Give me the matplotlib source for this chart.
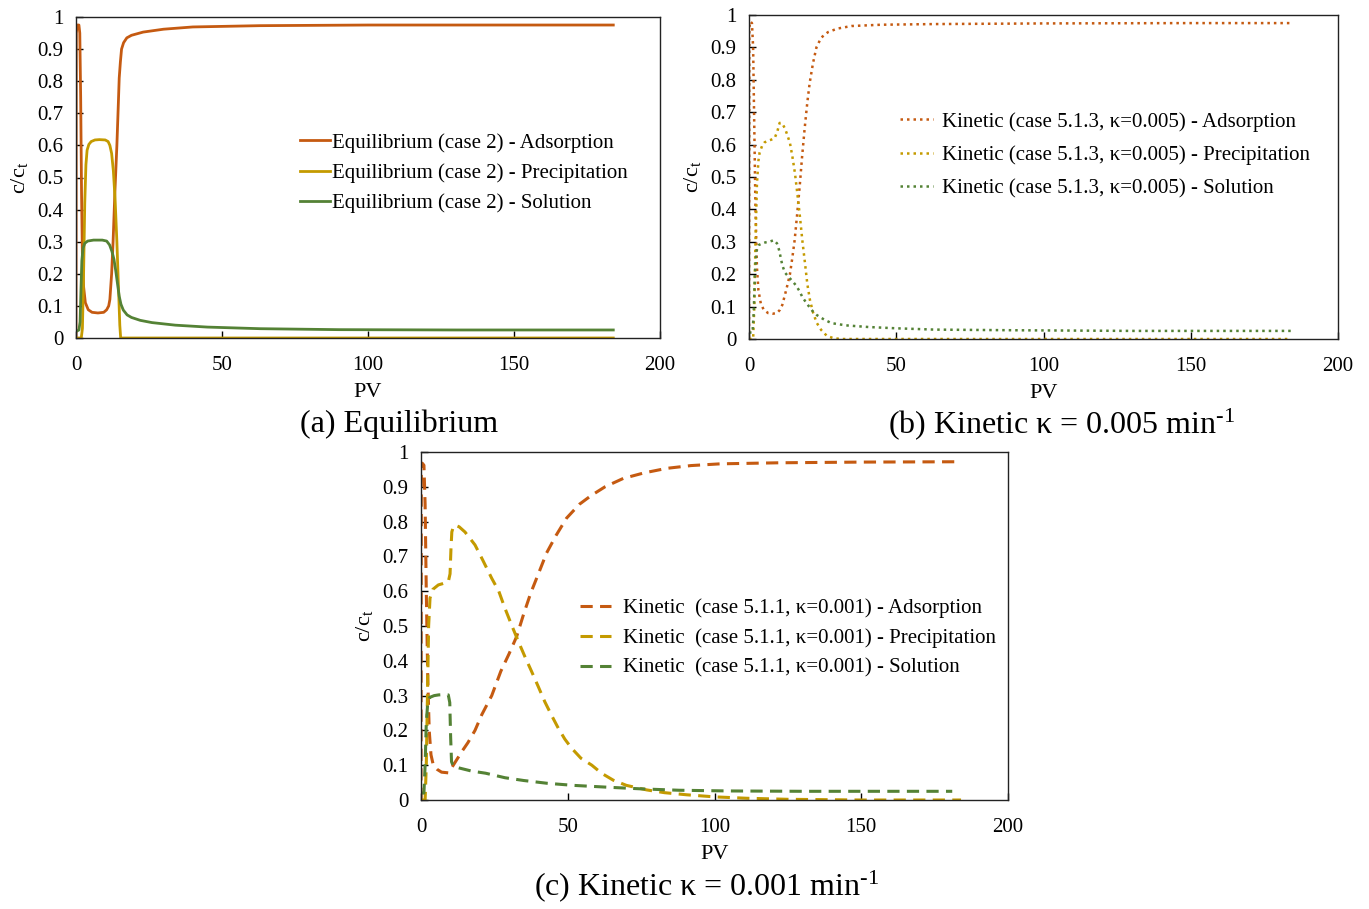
import numpy as np
import matplotlib
matplotlib.use("Agg")
import matplotlib.pyplot as plt
from matplotlib.ticker import FuncFormatter

plt.rcParams["font.family"] = ["Liberation Serif", "DejaVu Serif"]
plt.rcParams["mathtext.fontset"] = "custom"
plt.rcParams["mathtext.rm"] = "Liberation Serif"
plt.rcParams["mathtext.it"] = "Liberation Serif:italic"

ORANGE = "#C55A11"
GOLD = "#C49A00"
GREEN = "#548235"

# (a) equilibrium, case 2
pv_a_ads = [0, 0.1, 0.4, 1.0, 1.3, 1.6, 1.9, 2.2, 2.6, 3.2, 4.2, 5.5, 7.5, 9.5, 10.5, 11.2, 11.6, 12.2,
            12.7, 13.3, 14.0, 14.5, 14.8, 15.2, 15.6, 16.3, 17.4, 19, 23, 30, 40, 63, 100, 150, 184]
c_a_ads = [0, 0.95, 0.975, 0.975, 0.95, 0.75, 0.45, 0.25, 0.16, 0.11, 0.088, 0.08, 0.078, 0.08, 0.088, 0.1,
           0.12, 0.2, 0.3, 0.45, 0.6, 0.73, 0.81, 0.86, 0.9, 0.92, 0.935, 0.943, 0.953, 0.962, 0.969, 0.973,
           0.975, 0.975, 0.975]
pv_a_pre = [0, 1.8, 2.2, 2.6, 3.0, 3.4, 3.8, 4.4, 5.2, 6.5, 8, 10, 11, 11.6, 12.2, 12.8, 13.4, 14.0, 14.5,
            15.0, 15.3, 20, 50, 100, 150, 184]
c_a_pre = [0, 0, 0.03, 0.2, 0.42, 0.54, 0.585, 0.603, 0.612, 0.617, 0.618, 0.617, 0.612, 0.6, 0.575, 0.52,
           0.43, 0.3, 0.17, 0.04, 0.0, 0, 0, 0, 0, 0]
pv_a_sol = [0, 1.0, 1.4, 1.7, 2.0, 2.4, 3.0, 4.0, 6, 9, 10.5, 11.5, 12.3, 13.0, 13.6, 14.2, 14.8, 15.4, 16.2,
            17.5, 19, 22, 26, 34, 45, 63, 90, 130, 184]
c_a_sol = [0.02, 0.025, 0.05, 0.15, 0.24, 0.28, 0.295, 0.302, 0.305, 0.305, 0.302, 0.29, 0.27, 0.245, 0.21,
           0.17, 0.13, 0.105, 0.087, 0.072, 0.064, 0.055, 0.048, 0.04, 0.034, 0.029, 0.026, 0.025, 0.025]

# (b) kinetic, case 5.1.3
pv_b_ads = [0, 0.1, 0.4, 1.0, 1.4, 1.8, 2.2, 2.7, 3.2, 4, 5, 6.5, 8, 9.5, 10.5, 11.3, 12.2, 13, 13.9, 14.7,
            15.5, 16.3, 17.2, 18, 18.9, 19.8, 20.6, 21.7, 22.9, 24.5, 26.8, 30, 34.8, 45, 63, 100, 150, 184]
c_b_ads = [0, 0.96, 0.98, 0.975, 0.9, 0.65, 0.4, 0.22, 0.15, 0.11, 0.09, 0.08, 0.078, 0.08, 0.09, 0.105,
           0.136, 0.165, 0.2, 0.25, 0.305, 0.38, 0.47, 0.56, 0.65, 0.73, 0.79, 0.85, 0.9, 0.93, 0.947, 0.958,
           0.966, 0.97, 0.972, 0.974, 0.975, 0.975]
pv_b_pre = [0, 1.4, 1.8, 2.2, 2.7, 3.2, 3.6, 4.4, 5.3, 6.5, 7.5, 8.7, 9.6, 10.4, 11.3, 12.2, 13, 13.9, 14.7,
            15.6, 16.4, 17.3, 18.1, 19, 19.8, 20.7, 21.8, 23, 24.5, 26.4, 28.5, 31, 50, 100, 150, 184]
c_b_pre = [0, 0, 0.1, 0.3, 0.48, 0.55, 0.575, 0.595, 0.607, 0.612, 0.615, 0.62, 0.64, 0.667, 0.665, 0.65,
           0.63, 0.605, 0.565, 0.512, 0.45, 0.377, 0.305, 0.235, 0.17, 0.12, 0.08, 0.05, 0.028, 0.01, 0.003,
           0, 0, 0, 0, 0]
pv_b_sol = [0, 1.2, 1.6, 2.0, 2.5, 3.3, 4.5, 5.5, 6.8, 8.5, 9.5, 10.2, 10.8, 11.3, 12.2, 13.6, 14.8, 15.9,
            17, 18.1, 19.2, 20.4, 21.7, 23, 25.5, 28, 33, 40.5, 50, 63, 90, 130, 184]
c_b_sol = [0.02, 0.02, 0.08, 0.2, 0.27, 0.29, 0.295, 0.298, 0.3, 0.305, 0.295, 0.275, 0.25, 0.228, 0.205,
           0.19, 0.178, 0.166, 0.15, 0.13, 0.115, 0.1, 0.085, 0.074, 0.06, 0.049, 0.042, 0.037, 0.033, 0.029,
           0.027, 0.025, 0.025]

# (c) kinetic, case 5.1.1
pv_c_ads = [0, 0.1, 0.4, 1.0, 1.4, 1.8, 2.3, 2.8, 3.4, 4.2, 5.5, 7, 9.3, 11, 13.9, 16, 18.4, 20.7, 24.1,
            27.2, 30, 32.6, 35, 37.4, 40, 42.8, 46, 49.6, 54, 58, 62.7, 68.9, 76, 83.7, 92, 102, 122, 150, 184]
c_c_ads = [0, 0.95, 0.968, 0.962, 0.85, 0.6, 0.35, 0.2, 0.13, 0.1, 0.088, 0.08, 0.078, 0.1, 0.139, 0.165,
           0.2, 0.245, 0.3, 0.37, 0.42, 0.47, 0.535, 0.595, 0.65, 0.71, 0.76, 0.81, 0.85, 0.875, 0.9, 0.924,
           0.94, 0.953, 0.961, 0.966, 0.969, 0.971, 0.972]
pv_c_pre = [0, 1.4, 1.8, 2.2, 2.6, 3.07, 4, 5.9, 7.5, 9.3, 9.9, 10.2, 10.5, 11, 11.6, 13, 15, 18.4, 21, 24.1,
            26.5, 28.6, 31, 33.2, 35.5, 37.7, 40, 42.2, 44.5, 46.8, 49, 51.3, 54.5, 58.2, 61.5, 65.5, 70,
            76.9, 83, 90.5, 100, 111, 125, 150, 184]
c_c_pre = [0, 0, 0.1, 0.3, 0.5, 0.58, 0.605, 0.618, 0.622, 0.627, 0.65, 0.72, 0.77, 0.785, 0.79, 0.785,
           0.77, 0.733, 0.69, 0.637, 0.6, 0.551, 0.5, 0.455, 0.41, 0.369, 0.325, 0.282, 0.243, 0.206, 0.175,
           0.149, 0.12, 0.1, 0.077, 0.057, 0.042, 0.029, 0.021, 0.015, 0.009, 0.005, 0.002, 0.0, 0.0]
pv_c_sol = [0, 1.0, 1.4, 1.8, 2.3, 3, 4.5, 6, 8, 9.3, 9.8, 10.1, 10.4, 11, 13, 17.3, 22, 28.6, 35, 43, 52,
            63, 75, 88, 105, 130, 181]
c_c_sol = [0.02, 0.02, 0.1, 0.22, 0.28, 0.295, 0.3, 0.302, 0.303, 0.302, 0.28, 0.18, 0.11, 0.097, 0.092,
           0.083, 0.077, 0.064, 0.056, 0.048, 0.042, 0.037, 0.032, 0.028, 0.026, 0.025, 0.025]

labels_a = ["Equilibrium (case 2) - Adsorption", "Equilibrium (case 2) - Precipitation",
            "Equilibrium (case 2) - Solution"]
labels_b = ["Kinetic (case 5.1.3, \u03ba=0.005) - Adsorption", "Kinetic (case 5.1.3, \u03ba=0.005) - Precipitation",
            "Kinetic (case 5.1.3, \u03ba=0.005) - Solution"]
labels_c = ["Kinetic  (case 5.1.1, \u03ba=0.001) - Adsorption", "Kinetic  (case 5.1.1, \u03ba=0.001) - Precipitation",
            "Kinetic  (case 5.1.1, \u03ba=0.001) - Solution"]

W, H = 1369, 909
fig = plt.figure(figsize=(W / 100, H / 100), dpi=100)


def px_axes(left, top, right, bottom):
    return fig.add_axes([left / W, 1 - bottom / H, (right - left) / W, (bottom - top) / H])


def style(ax):
    ax.set_xlim(0, 200)
    ax.set_ylim(0, 1)
    ax.set_xticks([0, 50, 100, 150, 200])
    ax.set_yticks(np.arange(0, 1.01, 0.1))
    ax.yaxis.set_major_formatter(FuncFormatter(lambda v, p: "%g" % round(v, 1)))
    ax.tick_params(direction="in", length=5, width=1, labelsize=15)
    ax.tick_params(axis="x", pad=13)
    ax.tick_params(axis="y", pad=9)
    for s in ax.spines.values():
        s.set_linewidth(1.0)
        s.set_color("#222222")
    ax.set_xlabel("PV", fontsize=16, labelpad=6)
    ax.set_ylabel("c/c$_\\mathrm{t}$", fontsize=16, labelpad=5)


ax_a = px_axes(76, 17, 660, 338)
ax_b = px_axes(749, 15, 1338, 339)
ax_c = px_axes(421, 452, 1008, 800)

kw_a = dict(lw=2.0, ls="-")
ax_a.plot(pv_a_ads, c_a_ads, color=ORANGE, label=labels_a[0], **kw_a)
ax_a.plot(pv_a_pre, c_a_pre, color=GOLD, label=labels_a[1], **kw_a)
ax_a.plot(pv_a_sol, c_a_sol, color=GREEN, label=labels_a[2], **kw_a)

kw_b = dict(lw=1.8, ls=(0, (1, 1.6)))
ax_b.plot(pv_b_ads, c_b_ads, color=ORANGE, label=labels_b[0], **kw_b)
ax_b.plot(pv_b_pre, c_b_pre, color=GOLD, label=labels_b[1], **kw_b)
ax_b.plot(pv_b_sol, c_b_sol, color=GREEN, label=labels_b[2], **kw_b)

kw_c = dict(lw=2.2, ls=(0, (4, 2.4)))
ax_c.plot(pv_c_ads, c_c_ads, color=ORANGE, label=labels_c[0], **kw_c)
ax_c.plot(pv_c_pre, c_c_pre, color=GOLD, label=labels_c[1], **kw_c)
ax_c.plot(pv_c_sol, c_c_sol, color=GREEN, label=labels_c[2], **kw_c)

for ax in (ax_a, ax_b, ax_c):
    style(ax)

ax_a.legend(loc="center left", bbox_to_anchor=(300 / W, 1 - 173 / H), bbox_transform=fig.transFigure,
            frameon=False, fontsize=15, borderpad=0, borderaxespad=0, handlelength=1.45,
            handletextpad=0.1, labelspacing=0.5)
ax_b.legend(loc="center left", bbox_to_anchor=(900 / W, 1 - 155 / H), bbox_transform=fig.transFigure,
            frameon=False, fontsize=15, borderpad=0, borderaxespad=0, handlelength=1.6,
            handletextpad=0.4, labelspacing=0.65)
ax_c.legend(loc="center left", bbox_to_anchor=(580 / W, 1 - 638 / H), bbox_transform=fig.transFigure,
            frameon=False, fontsize=15, borderpad=0, borderaxespad=0, handlelength=1.5,
            handletextpad=0.55, labelspacing=0.5)

fig.text(399 / W, 1 - 424 / H, "(a) Equilibrium", fontsize=23, ha="center", va="center")
fig.text(1062 / W, 1 - 424 / H, "(b) Kinetic \u03ba = 0.005 min$^{\\text{-1}}$", fontsize=23,
         ha="center", va="center")
fig.text(707 / W, 1 - 886 / H, "(c) Kinetic \u03ba = 0.001 min$^{\\text{-1}}$", fontsize=23,
         ha="center", va="center")

fig.savefig("out.png", dpi=100)
